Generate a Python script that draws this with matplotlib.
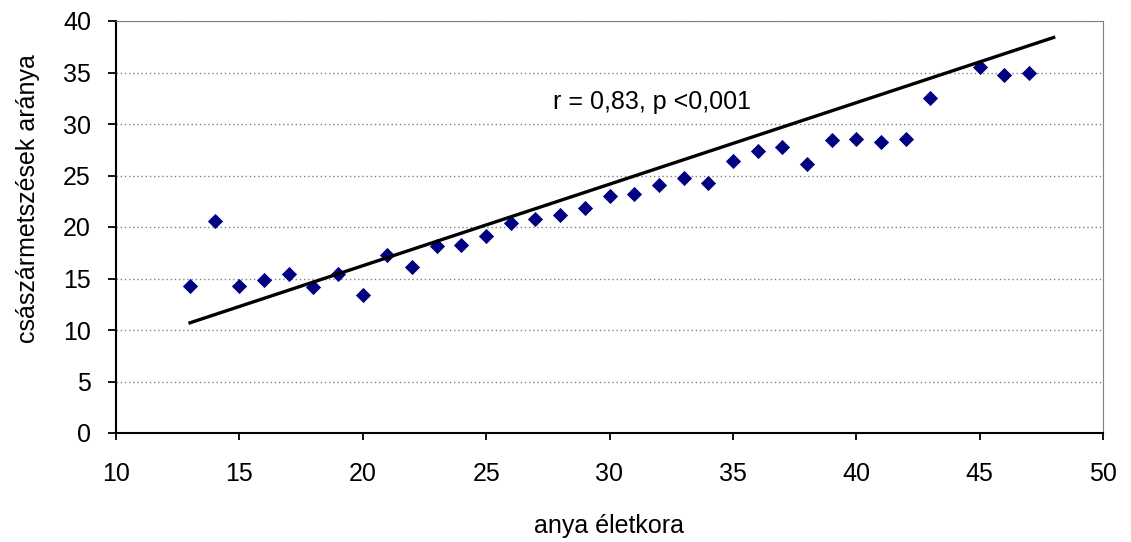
import numpy as np
import matplotlib.pyplot as plt

plt.rcParams['font.family'] = ['Liberation Sans', 'DejaVu Sans']

age = [13, 14, 15, 16, 17, 18, 19, 20, 21, 22, 23, 24, 25, 26, 27, 28, 29, 30,
       31, 32, 33, 34, 35, 36, 37, 38, 39, 40, 41, 42, 43, 45, 46, 47]
rate = [14.3, 20.6, 14.3, 14.9, 15.4, 14.2, 15.4, 13.4, 17.3, 16.1, 18.2, 18.3,
        19.1, 20.4, 20.8, 21.2, 21.8, 23.0, 23.2, 24.1, 24.8, 24.3, 26.4, 27.4,
        27.8, 26.1, 28.4, 28.5, 28.3, 28.5, 32.5, 35.5, 34.8, 35.0]
trend_x = [13, 48]
trend_y = [10.7, 38.4]

fig = plt.figure(figsize=(11.31, 5.42), dpi=100)
ax = fig.add_axes([116/1131, 1-433/542, (1103-116)/1131, (433-21)/542])

ax.scatter(age, rate, marker='D', s=60, color='#000080', zorder=3, linewidths=0)
ax.plot(trend_x, trend_y, color='black', lw=2.4, zorder=4)
ax.text(27.7, 31.5, "r = 0,83, p <0,001", fontsize=18)

ax.set_xlim(10, 50)
ax.set_ylim(0, 40)
ax.set_xticks(np.arange(10, 51, 5))
ax.set_yticks(np.arange(0, 41, 5))
ax.yaxis.grid(True, linestyle=(0, (1, 2)), color='#808080', lw=1)
ax.set_axisbelow(True)
for s in ['top', 'right']:
    ax.spines[s].set_color('#808080')
for s in ['left', 'bottom']:
    ax.spines[s].set_linewidth(1.5)
ax.tick_params(direction='out', width=1.3, labelsize=18)
ax.tick_params(axis='y', length=6, pad=12)
ax.tick_params(axis='x', length=5, pad=16)

ax.set_xlabel("anya életkora", fontsize=18, labelpad=20)
ax.set_ylabel("császármetszések aránya", fontsize=18)
ax.yaxis.set_label_coords(-0.077, 0.568)

fig.savefig("out.png", dpi=100)
